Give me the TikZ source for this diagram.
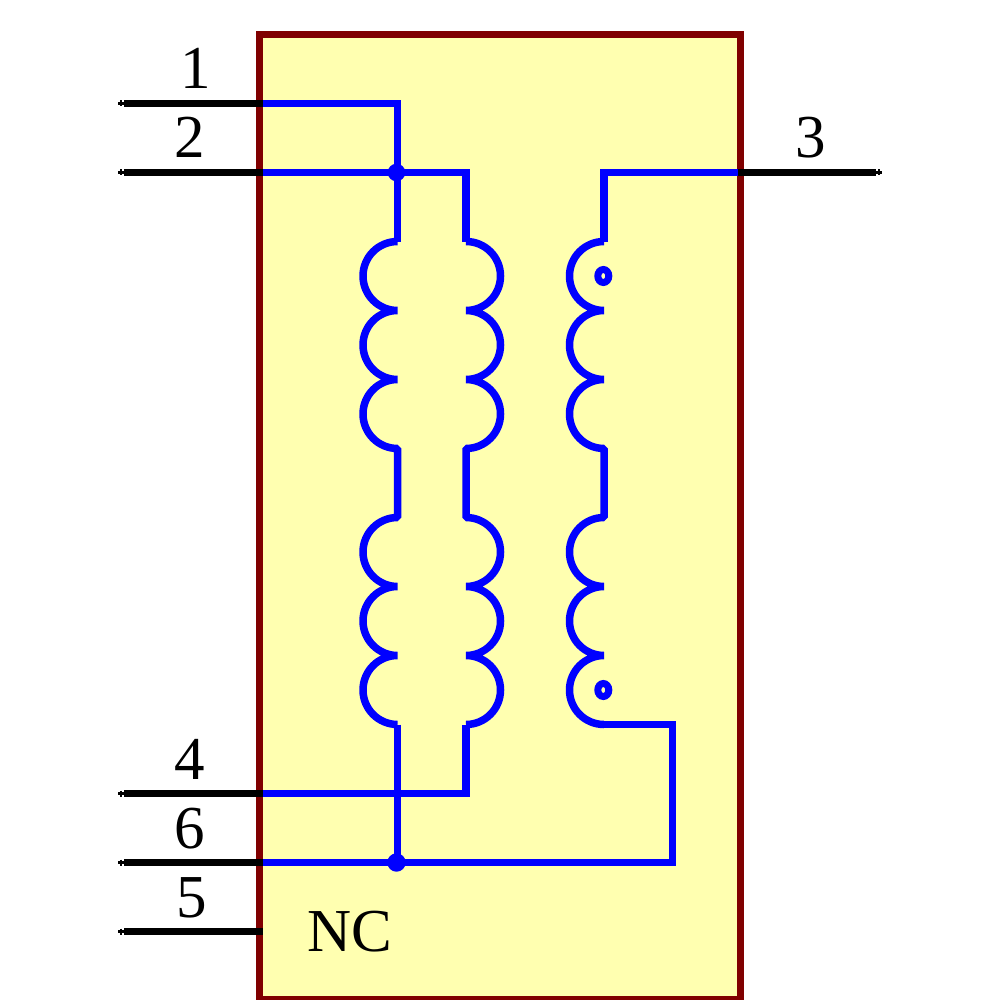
\documentclass[tikz,border=0pt]{standalone}
\usepackage{fontspec}
\setmainfont{Liberation Serif}
\newlength{\du}
\setlength{\du}{1pt}
\definecolor{boxfillcolor}{rgb}{1.000000, 1.000000, 0.690000}
\definecolor{boxlinecolor}{rgb}{0.500000, 0.000000, 0.000000}
\definecolor{wirecolor}{rgb}{0.000000, 0.000000, 1.000000}
\tikzset{
  partbox/.style={draw=boxlinecolor,fill=boxfillcolor,line width=7.500000\du,line join=miter},
  wire/.style={draw=wirecolor,line width=7.500000\du,line join=miter,line cap=butt},
  coil/.style={draw=wirecolor,line width=7.500000\du,line join=bevel,line cap=butt},
  pinline/.style={draw=black,line width=7.500000\du,line cap=butt},
  pintick/.style={draw=black,line width=2.200000\du},
  junction/.style={fill=wirecolor},
  polarity/.style={draw=wirecolor,line width=7.000000\du},
  pinlabel/.style={anchor=base,inner sep=0pt,font=\fontsize{61\du}{72\du}\selectfont}
}

\begin{document}
\begin{tikzpicture}
  \pgftransformxscale{1.000000}
  \pgftransformyscale{-1.000000}
  \useasboundingbox (0\du,0\du) rectangle (1000\du,1000\du);
  % outline
  \draw[partbox] (259.500000\du,34.500000\du) rectangle (740.500000\du,999.500000\du);
  % pins
  \coordinate (pin1end) at (124.000000\du,103.500000\du);
  \coordinate (pin2end) at (124.000000\du,172.500000\du);
  \coordinate (pin3end) at (876.000000\du,172.500000\du);
  \coordinate (pin4end) at (124.000000\du,793.500000\du);
  \coordinate (pin6end) at (124.000000\du,862.500000\du);
  \coordinate (pin5end) at (124.000000\du,931.500000\du);
  \coordinate (pin1) at (262.500000\du,103.500000\du);
  \coordinate (pin2) at (262.500000\du,172.500000\du);
  \coordinate (pin3) at (738.000000\du,172.500000\du);
  \coordinate (pin4) at (262.500000\du,793.500000\du);
  \coordinate (pin6) at (262.500000\du,862.500000\du);
  \coordinate (pin5) at (262.500000\du,931.500000\du);
  % coil ends
  \coordinate (coilatop) at (397.500000\du,241.500000\du);
  \coordinate (coilabot) at (397.500000\du,724.500000\du);
  \coordinate (coilbtop) at (466.000000\du,241.500000\du);
  \coordinate (coilbbot) at (466.000000\du,724.500000\du);
  \coordinate (coilctop) at (604.000000\du,241.500000\du);
  \coordinate (coilcbot) at (604.000000\du,724.500000\du);
  \coordinate (botjoint) at (397.500000\du,862.500000\du);
  \coordinate (bendtop) at (672.500000\du,724.500000\du);
  \coordinate (bendbot) at (672.500000\du,862.500000\du);
  % coils
  \draw[coil] (coilatop)
    arc[start angle=270,end angle=90,radius=34.500000\du]
    arc[start angle=270,end angle=90,radius=34.500000\du]
    arc[start angle=270,end angle=90,radius=34.500000\du]
    -- ++(0\du,69.000000\du)
    arc[start angle=270,end angle=90,radius=34.500000\du]
    arc[start angle=270,end angle=90,radius=34.500000\du]
    arc[start angle=270,end angle=90,radius=34.500000\du];
  \draw[coil] (coilbtop)
    arc[start angle=-90,end angle=90,radius=34.500000\du]
    arc[start angle=-90,end angle=90,radius=34.500000\du]
    arc[start angle=-90,end angle=90,radius=34.500000\du]
    -- ++(0\du,69.000000\du)
    arc[start angle=-90,end angle=90,radius=34.500000\du]
    arc[start angle=-90,end angle=90,radius=34.500000\du]
    arc[start angle=-90,end angle=90,radius=34.500000\du];
  \draw[coil] (coilctop)
    arc[start angle=270,end angle=90,radius=34.500000\du]
    arc[start angle=270,end angle=90,radius=34.500000\du]
    arc[start angle=270,end angle=90,radius=34.500000\du]
    -- ++(0\du,69.000000\du)
    arc[start angle=270,end angle=90,radius=34.500000\du]
    arc[start angle=270,end angle=90,radius=34.500000\du]
    arc[start angle=270,end angle=90,radius=34.500000\du];
  % wires
  \draw[wire] (pin1) -| (coilatop);
  \draw[wire] (pin2) -| (coilbtop);
  \draw[wire] (pin3) -| (coilctop);
  \draw[wire] (pin4) -| (coilbbot);
  \draw[wire] (coilabot) -- (botjoint);
  \draw[wire] (coilcbot) -- (bendtop) -- (bendbot) -- (pin6);
  % joints and polarity dots
  \fill[junction] (396.500000\du,172.500000\du) circle[radius=8.800000\du];
  \fill[junction] (396.500000\du,862.500000\du) circle[radius=9.200000\du];
  \draw[polarity] (603.300000\du,276.000000\du) ellipse[x radius=5.500000\du,y radius=6.500000\du];
  \draw[polarity] (603.300000\du,690.000000\du) ellipse[x radius=5.500000\du,y radius=6.500000\du];
  % pin leads
  \draw[pinline] (pin1end) -- (pin1);
  \draw[pinline] (pin2end) -- (pin2);
  \draw[pinline] (pin3end) -- (pin3);
  \draw[pinline] (pin4end) -- (pin4);
  \draw[pinline] (pin6end) -- (pin6);
  \draw[pinline] (pin5end) -- (pin5);
  \draw[pintick] (pin1end) -- ++(-6\du,0\du) ++(3\du,-3\du) -- ++(0\du,6\du);
  \draw[pintick] (pin2end) -- ++(-6\du,0\du) ++(3\du,-3\du) -- ++(0\du,6\du);
  \draw[pintick] (pin3end) -- ++(6\du,0\du) ++(-3\du,-3\du) -- ++(0\du,6\du);
  \draw[pintick] (pin4end) -- ++(-6\du,0\du) ++(3\du,-3\du) -- ++(0\du,6\du);
  \draw[pintick] (pin6end) -- ++(-6\du,0\du) ++(3\du,-3\du) -- ++(0\du,6\du);
  \draw[pintick] (pin5end) -- ++(-6\du,0\du) ++(3\du,-3\du) -- ++(0\du,6\du);
  % labels
  \node[pinlabel] (label1) at (195.500000\du,89.000000\du){1};
  \node[pinlabel] (label2) at (190.000000\du,158.000000\du){2};
  \node[pinlabel] (label3) at (811.000000\du,158.000000\du){3};
  \node[pinlabel] (label4) at (190.000000\du,779.000000\du){4};
  \node[pinlabel] (label6) at (190.000000\du,848.000000\du){6};
  \node[pinlabel] (label5) at (191.500000\du,917.000000\du){5};
  \node[pinlabel] (labelnc) at (349.500000\du,951.500000\du){NC};
\end{tikzpicture}
\end{document}
